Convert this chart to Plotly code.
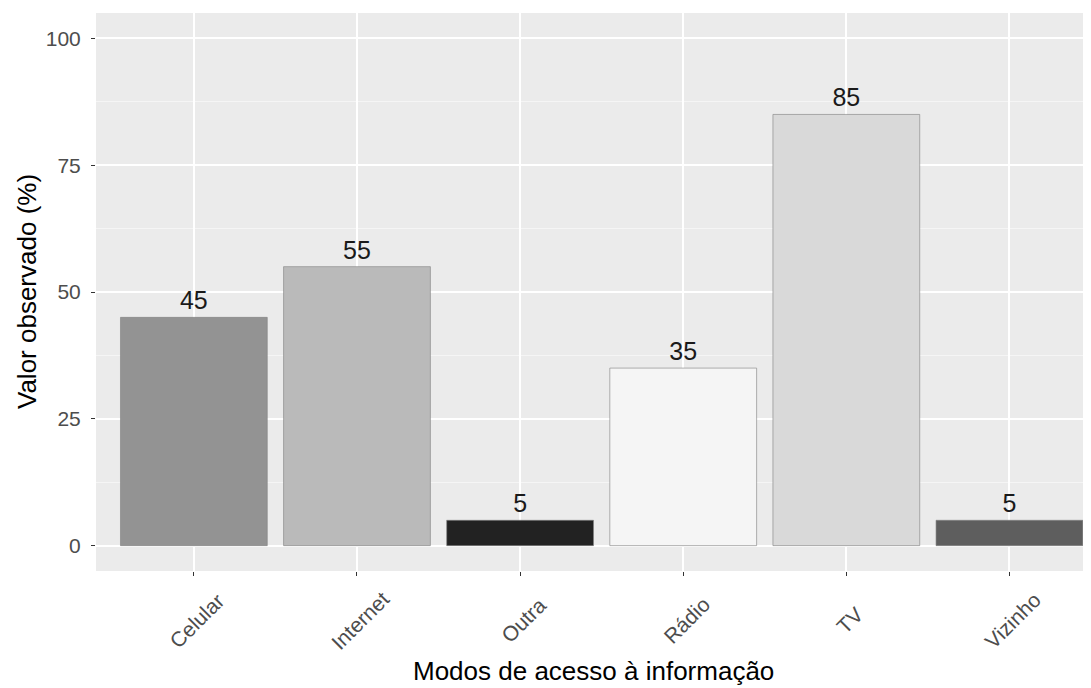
import plotly.graph_objects as go

# dados
modos = ['Celular', 'Internet', 'Outra', 'Rádio', 'TV', 'Vizinho']
valores = [45, 55, 5, 35, 85, 5]
cores = ['#939393', '#bababa', '#222222', '#f5f5f5', '#d9d9d9', '#5e5e5e']

fonte = 'Liberation Sans, Arial, sans-serif'

fig = go.Figure()
fig.add_trace(go.Bar(x=modos, y=valores, width=0.9,
                     marker=dict(color=cores, line=dict(color='rgba(128,128,128,0.6)', width=1)),
                     text=valores, textposition='outside', cliponaxis=False,
                     textfont=dict(size=25, color='#1a1a1a'),
                     showlegend=False))

# rotulos do eixo x (centralizados no tick, como no ggplot)
for m in modos:
    fig.add_annotation(x=m, xref='x', y=0, yref='paper', text=m, textangle=-45,
                       showarrow=False, xanchor='center', yanchor='middle',
                       xshift=3, yshift=-49, font=dict(size=21, color='#4d4d4d'))

fig.add_annotation(x=0.5, xref='paper', y=0, yref='paper', text='Modos de acesso à informação',
                   showarrow=False, xanchor='center', yanchor='middle', yshift=-100,
                   font=dict(size=26, color='black'))
fig.add_annotation(x=0, xref='paper', y=0.5, yref='paper', text='Valor observado (%)',
                   textangle=-90, showarrow=False, xanchor='center', yanchor='middle', xshift=-69,
                   font=dict(size=26, color='black'))

fig.update_layout(width=1091, height=680,
                  margin=dict(l=88, r=8, t=5, b=117),
                  paper_bgcolor='white', plot_bgcolor='#ebebeb',
                  font=dict(family=fonte))
fig.update_xaxes(range=[-0.6, 5.5], showgrid=True, gridcolor='white', gridwidth=1.5,
                 showticklabels=False, ticks='outside', ticklen=4, tickcolor='#333333', zeroline=False)
fig.update_yaxes(range=[-5, 105], tickvals=[0, 25, 50, 75, 100], showgrid=True,
                 gridcolor='white', gridwidth=1.5, zeroline=False,
                 minor=dict(tickvals=[12.5, 37.5, 62.5, 87.5], showgrid=True, gridcolor='#f5f5f5', gridwidth=0.8),
                 ticks='outside', ticklen=4, tickcolor='#333333', ticklabelstandoff=6,
                 tickfont=dict(size=21, color='#4d4d4d'))

fig.write_html("out.html")
